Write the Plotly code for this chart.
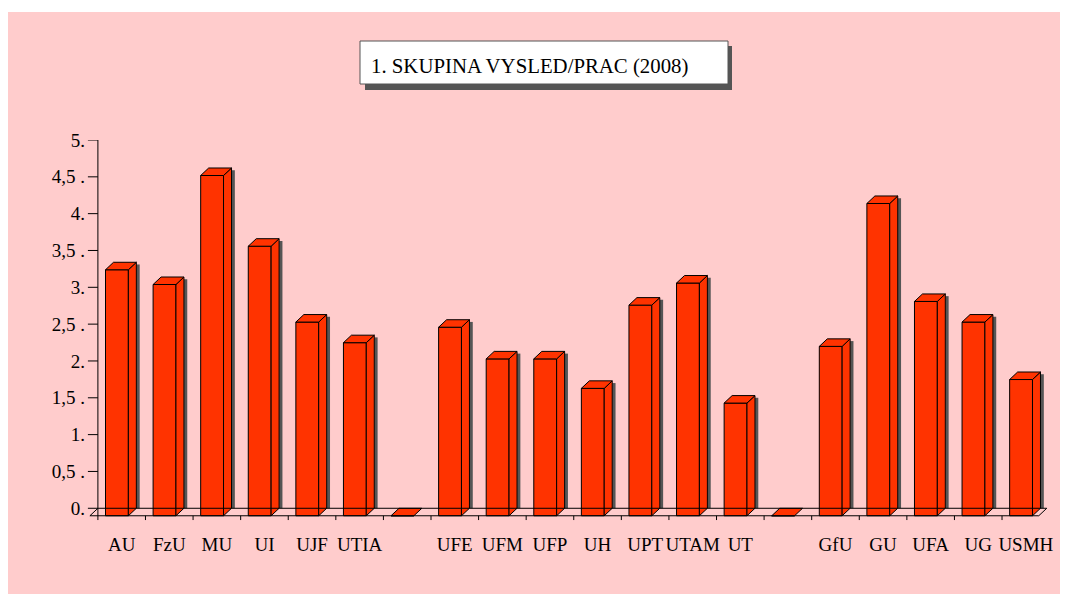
import plotly.graph_objects as go

# ---- data ----
categories = ["AU", "FzU", "MU", "UI", "UJF", "UTIA", "", "UFE", "UFM", "UFP",
              "UH", "UPT", "UTAM", "UT", "", "GfU", "GU", "UFA", "UG", "USMH"]
values = [3.34, 3.14, 4.62, 3.66, 2.63, 2.35, 0.0, 2.56, 2.13, 2.13,
          1.73, 2.86, 3.16, 1.53, 0.0, 2.30, 4.24, 2.91, 2.63, 1.85]
y_tickvals = [0, 0.5, 1, 1.5, 2, 2.5, 3, 3.5, 4, 4.5, 5]
y_ticktext = ["0.", "0,5 .", "1.", "1,5 .", "2.", "2,5 .", "3.", "3,5 .", "4.", "4,5 .", "5."]
title_text = "1. SKUPINA VYSLED/PRAC (2008)"

# ---- geometry / style ----
W, H = 1060, 586
ML, MR, MT, MB = 78, 16, 132, 71
XR = [-0.75, 19.55]
YR = [-0.2, 5.0]
DX = 0.168      # depth in x (category units)
DY = 0.102      # depth in y (value units)
F0, F1 = -0.34, 0.14   # front face extent relative to category
RED = "#FF3300"
PINK = "#FFCCCC"
FONT = "Liberation Serif, Times New Roman, serif"

n = len(categories)
xs = list(range(n))

fig = go.Figure()

# shadow strips
fig.add_trace(go.Bar(x=xs, y=[max(v - 0.03, 0) for v in values], base=0,
                     offset=F1 + DX, width=0.07, marker=dict(color="#555555", line=dict(width=0)),
                     hoverinfo="skip", showlegend=False))
# front faces
fig.add_trace(go.Bar(x=xs, y=values, base=-DY, offset=F0, width=F1 - F0,
                     marker=dict(color=RED, line=dict(color="black", width=1)),
                     showlegend=False))

# side and top faces
sx, sy, tx, ty = [], [], [], []
for k, v in zip(xs, values):
    if v > 0:
        sx += [k + F1, k + F1 + DX, k + F1 + DX, k + F1, k + F1, None]
        sy += [-DY, 0, v, v - DY, -DY, None]
    tx += [k + F0, k + F1, k + F1 + DX, k + F0 + DX, k + F0, None]
    ty += [v - DY, v - DY, v, v, v - DY, None]
fig.add_trace(go.Scatter(x=sx, y=sy, mode="lines", fill="toself", fillcolor=RED,
                         line=dict(color="black", width=1), hoverinfo="skip", showlegend=False))
fig.add_trace(go.Scatter(x=tx, y=ty, mode="lines", fill="toself", fillcolor=RED,
                         line=dict(color="black", width=1), hoverinfo="skip", showlegend=False))

# axes / floor lines
lx, ly = [], []
x_left = XR[0] + 0.25  # back-left corner (-0.5)
x_right = n - 0.5 - 0.06
lx += [x_left, x_left, None]; ly += [YR[1], -0.16, None]
for t in y_tickvals:
    lx += [x_left - 0.21, x_left, None]; ly += [t, t, None]
lx += [x_left, x_right, x_right - DX, x_left - DX, x_left, None]
ly += [0, 0, -DY, -DY, 0, None]
for k in range(1, n):
    lx += [k - 0.5, k - 0.5, None]; ly += [-DY, -0.16, None]
fig.add_trace(go.Scatter(x=lx, y=ly, mode="lines", line=dict(color="black", width=1),
                         hoverinfo="skip", showlegend=False))

pw = W - ML - MR
ph = H - MT - MB
def px(x):
    return (x - ML) / pw
def py(y):
    return (H - MB - y) / ph

shapes = [
    dict(type="rect", xref="paper", yref="paper", x0=px(0), x1=px(W), y0=py(0), y1=py(4),
         fillcolor="white", line=dict(width=0), layer="below"),
    dict(type="rect", xref="paper", yref="paper", x0=px(357), x1=px(724), y0=py(38), y1=py(82),
         fillcolor="#555555", line=dict(width=0)),
    dict(type="rect", xref="paper", yref="paper", x0=px(352), x1=px(720), y0=py(33), y1=py(76),
         fillcolor="white", line=dict(color="#555555", width=1)),
]

fig.update_layout(
    width=W, height=H,
    margin=dict(l=ML, r=MR, t=MT, b=MB, pad=0),
    paper_bgcolor=PINK, plot_bgcolor="rgba(0,0,0,0)",
    barmode="overlay",
    shapes=shapes,
    font=dict(family=FONT, size=19, color="black"),
    annotations=[dict(text=title_text, xref="paper", yref="paper", x=px(361), y=py(58),
                      xanchor="left", yanchor="middle", showarrow=False,
                      font=dict(family=FONT, size=20.8, color="black"))],
    xaxis=dict(range=XR, tickmode="array", tickvals=xs, ticktext=categories,
               showgrid=False, zeroline=False, showline=False, ticks="", tickangle=0,
               ticklabelstandoff=8, tickfont=dict(family=FONT, size=19)),
    yaxis=dict(range=YR, tickmode="array", tickvals=y_tickvals, ticktext=y_ticktext,
               showgrid=False, zeroline=False, showline=False, ticks="",
               ticklabelstandoff=0, tickfont=dict(family=FONT, size=19)),
)

fig.write_html("out.html")
